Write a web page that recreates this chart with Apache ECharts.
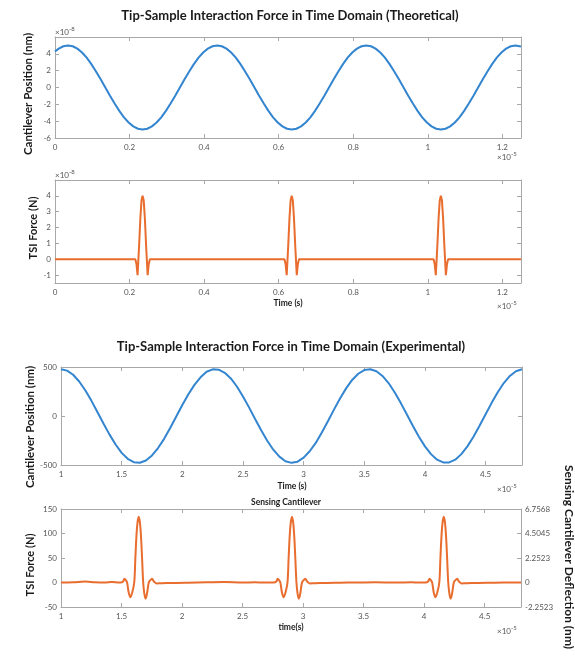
<!DOCTYPE html>
<html lang="en">
<head>
<meta charset="UTF-8">
<title>Tip-Sample Interaction Force in Time Domain</title>
<style>
  html, body { margin: 0; padding: 0; background: #fff; }
  #chart { width: 575px; height: 656px; }
</style>
</head>
<body>
<div id="chart"></div>
<script src="https://cdn.jsdelivr.net/npm/echarts@6.0.0/dist/echarts.min.js"></script>
<script>
// ---- theoretical (time in 1e-5 s, position in 1e-8, force in 1e-8 N) ----
var theoTime = [0,
  0.01, 0.0225, 0.035, 0.0475, 0.06, 0.0725, 0.085, 0.0975, 0.11, 0.1225, 0.135, 0.1475, 0.16, 0.1725, 0.185, 0.1975,
  0.21, 0.2225, 0.235, 0.2475, 0.26, 0.2725, 0.285, 0.2975, 0.31, 0.3225, 0.335, 0.3475, 0.36, 0.3725, 0.385, 0.3975,
  0.41, 0.4225, 0.435, 0.4475, 0.46, 0.4725, 0.485, 0.4975, 0.51, 0.5225, 0.535, 0.5475, 0.56, 0.5725, 0.585, 0.5975,
  0.61, 0.6225, 0.635, 0.6475, 0.66, 0.6725, 0.685, 0.6975, 0.71, 0.7225, 0.735, 0.7475, 0.76, 0.7725, 0.785, 0.7975,
  0.81, 0.8225, 0.835, 0.8475, 0.86, 0.8725, 0.885, 0.8975, 0.91, 0.9225, 0.935, 0.9475, 0.96, 0.9725, 0.985, 0.9975,
  1.01, 1.0225, 1.035, 1.0475, 1.06, 1.0725, 1.085, 1.0975, 1.11, 1.1225, 1.135, 1.1475, 1.16, 1.1725, 1.185, 1.1975,
  1.21, 1.2225, 1.235, 1.25];
var theoPos = [4.27,
  4.62, 4.90, 5.00, 4.90, 4.62, 4.16, 3.54, 2.78, 1.91, 0.98, 0, -0.98, -1.91, -2.78, -3.54, -4.16,
  -4.62, -4.90, -5.00, -4.90, -4.62, -4.16, -3.54, -2.78, -1.91, -0.98, 0, 0.98, 1.91, 2.78, 3.54, 4.16,
  4.62, 4.90, 5.00, 4.90, 4.62, 4.16, 3.54, 2.78, 1.91, 0.98, 0, -0.98, -1.91, -2.78, -3.54, -4.16,
  -4.62, -4.90, -5.00, -4.90, -4.62, -4.16, -3.54, -2.78, -1.91, -0.98, 0, 0.98, 1.91, 2.78, 3.54, 4.16,
  4.62, 4.90, 5.00, 4.90, 4.62, 4.16, 3.54, 2.78, 1.91, 0.98, 0, -0.98, -1.91, -2.78, -3.54, -4.16,
  -4.62, -4.90, -5.00, -4.90, -4.62, -4.16, -3.54, -2.78, -1.91, -0.98, 0, 0.98, 1.91, 2.78, 3.54, 4.16,
  4.62, 4.90, 5.00, 4.86];

var theoForceTime = [0,
  0.2155, 0.2185, 0.2215, 0.2255, 0.229, 0.232, 0.235, 0.238, 0.241, 0.2445, 0.2485, 0.2515, 0.2545,
  0.6155, 0.6185, 0.6215, 0.6255, 0.629, 0.632, 0.635, 0.638, 0.641, 0.6445, 0.6485, 0.6515, 0.6545,
  1.0155, 1.0185, 1.0215, 1.0255, 1.029, 1.032, 1.035, 1.038, 1.041, 1.0445, 1.0485, 1.0515, 1.0545,
  1.25];
var theoForce = [0,
  0, -0.3, -1.0, 0.8, 2.6, 3.7, 4.0, 3.7, 2.6, 0.8, -1.0, -0.3, 0,
  0, -0.3, -1.0, 0.8, 2.6, 3.7, 4.0, 3.7, 2.6, 0.8, -1.0, -0.3, 0,
  0, -0.3, -1.0, 0.8, 2.6, 3.7, 4.0, 3.7, 2.6, 0.8, -1.0, -0.3, 0,
  0];

// ---- experimental (time in 1e-5 s, position in nm, force in N) ----
var expTime = [1.00, 1.05, 1.10, 1.15, 1.20, 1.25, 1.30, 1.35, 1.40, 1.45, 1.50, 1.55, 1.60, 1.65, 1.70, 1.75,
  1.80, 1.85, 1.90, 1.95, 2.00, 2.05, 2.10, 2.15, 2.20, 2.25, 2.30, 2.35, 2.40, 2.45, 2.50, 2.55,
  2.60, 2.65, 2.70, 2.75, 2.80, 2.85, 2.90, 2.95, 3.00, 3.05, 3.10, 3.15, 3.20, 3.25, 3.30, 3.35,
  3.40, 3.45, 3.50, 3.55, 3.60, 3.65, 3.70, 3.75, 3.80, 3.85, 3.90, 3.95, 4.00, 4.05, 4.10, 4.15,
  4.20, 4.25, 4.30, 4.35, 4.40, 4.45, 4.50, 4.55, 4.60, 4.65, 4.70, 4.75, 4.80];
var expPos = [478, 463, 421, 352, 263, 157, 41, -76, -190, -291, -376, -437, -471, -477, -454, -402,
  -327, -233, -123, -6, 112, 222, 318, 395, 451, 476, 473, 441, 383, 301, 200, 88,
  -30, -145, -253, -344, -415, -461, -478, -466, -425, -360, -275, -168, -53, 65, 179, 282,
  368, 431, 469, 477, 457, 409, 336, 242, 134, 18, -100, -211, -310, -389, -446, -474,
  -474, -446, -389, -310, -211, -100, 18, 134, 242, 336, 409, 457, 477];

var expForceTime = [1.0, 1.1, 1.2, 1.28, 1.36, 1.42,
  1.482, 1.502, 1.515, 1.524, 1.535, 1.546, 1.559, 1.573, 1.589, 1.605, 1.614, 1.623, 1.632, 1.642,
  1.652, 1.661, 1.670, 1.679, 1.688, 1.699, 1.711, 1.725, 1.739, 1.752, 1.765, 1.777, 1.792, 1.822, 1.872,
  1.95, 2.05, 2.2, 2.35, 2.5, 2.6, 2.68,
  2.748, 2.768, 2.781, 2.790, 2.801, 2.812, 2.825, 2.839, 2.855, 2.871, 2.880, 2.889, 2.898, 2.908,
  2.918, 2.927, 2.936, 2.945, 2.954, 2.965, 2.977, 2.991, 3.005, 3.018, 3.031, 3.043, 3.058, 3.088, 3.138,
  3.2, 3.3, 3.45, 3.6, 3.75, 3.9, 3.95,
  4.002, 4.022, 4.035, 4.044, 4.055, 4.066, 4.079, 4.093, 4.109, 4.125, 4.134, 4.143, 4.152, 4.162,
  4.172, 4.181, 4.190, 4.199, 4.208, 4.219, 4.231, 4.245, 4.259, 4.272, 4.285, 4.297, 4.312, 4.342, 4.392,
  4.45, 4.55, 4.65, 4.8];
var expForce = [0, 0.5, 2, 0.5, 0, 1,
  0, 0.5, 3, 7.5, 5, 0, -20, -30, -20, 0, 48, 94, 122, 134,
  122, 94, 48, 0, -22, -33, -22, 0, 5, 7.5, 3, 0, -2, -1.5, -1,
  -1, -0.5, 0.5, 1, 0, 0.5, 0,
  0, 0.5, 3, 7.5, 5, 0, -20, -30, -20, 0, 48, 94, 122, 134,
  122, 94, 48, 0, -22, -33, -22, 0, 5, 7.5, 3, 0, -2, -1.5, -1,
  -1, -0.5, 0, 0.5, 0, 0.5, 0,
  0, 0.5, 3, 7.5, 5, 0, -20, -30, -20, 0, 48, 94, 122, 134,
  122, 94, 48, 0, -22, -33, -22, 0, 5, 7.5, 3, 0, -2, -1.5, -1,
  -1, -0.5, 0, 0];

// ---- tick values ----
var theoXTicks = [0, 0.2, 0.4, 0.6, 0.8, 1, 1.2];
var theoPosTicks = [-6, -4, -2, 0, 2, 4];
var theoForceTicks = [-1, 0, 1, 2, 3, 4];
var expXTicks = [1, 1.5, 2, 2.5, 3, 3.5, 4, 4.5];
var expPosTicks = [-500, 0, 500];
var expForceTicks = [-50, 0, 50, 100, 150];
var deflTicks = [-2.2523, 0, 2.2523, 4.5045, 6.7568];

function pairs(xs, ys) {
  return xs.map(function (x, i) { return [x, ys[i]]; });
}

var gray = '#a8a8a8';
var labelColor = '#555';
var fontFam = 'Lato, "Liberation Sans", sans-serif';

function xAx(grid, min, max, ticks, top) {
  return {
    type: 'value', gridIndex: grid, min: min, max: max,
    position: top ? 'top' : 'bottom',
    axisLine: { show: true, onZero: false, lineStyle: { color: gray, width: 1 } },
    axisTick: { show: true, inside: true, length: 4, customValues: ticks, lineStyle: { color: gray } },
    axisLabel: { show: !top, customValues: ticks, margin: 5, fontSize: 8, color: labelColor, fontFamily: fontFam },
    splitLine: { show: false }
  };
}
function yAx(grid, min, max, ticks, right, showLabel, fmt) {
  return {
    type: 'value', gridIndex: grid, min: min, max: max,
    position: right ? 'right' : 'left',
    axisLine: { show: true, onZero: false, lineStyle: { color: gray, width: 1 } },
    axisTick: { show: true, inside: true, length: 4, customValues: ticks, lineStyle: { color: gray } },
    axisLabel: { show: showLabel, customValues: ticks, margin: 4, fontSize: 8, color: labelColor, fontFamily: fontFam,
      formatter: fmt },
    splitLine: { show: false }
  };
}

function txt(x, y, text, size, bold, align, rot) {
  return {
    type: 'text', x: x, y: y, rotation: rot || 0,
    style: {
      text: text, fontSize: size, fontWeight: bold ? 'bold' : 'normal', fontFamily: fontFam,
      fill: bold ? '#1a1a1a' : labelColor, align: align || 'center', verticalAlign: 'middle',
      rich: { s: { fontSize: 6, verticalAlign: 'top', padding: [0, 0, 5, 0], fill: labelColor, fontFamily: fontFam } }
    }
  };
}

var chart = echarts.init(document.getElementById('chart'), null, { renderer: 'canvas' });

chart.setOption({
  animation: false,
  backgroundColor: '#fff',
  grid: [
    { left: 55, top: 37, width: 466, height: 101 },
    { left: 55, top: 180, width: 466, height: 103 },
    { left: 61, top: 367, width: 461, height: 98 },
    { left: 61, top: 509, width: 460, height: 98 }
  ],
  xAxis: [
    xAx(0, 0, 1.25, theoXTicks, false), xAx(0, 0, 1.25, theoXTicks, true),
    xAx(1, 0, 1.25, theoXTicks, false), xAx(1, 0, 1.25, theoXTicks, true),
    xAx(2, 1, 4.8, expXTicks, false), xAx(2, 1, 4.8, expXTicks, true),
    xAx(3, 1, 4.8, expXTicks, false), xAx(3, 1, 4.8, expXTicks, true)
  ],
  yAxis: [
    yAx(0, -6, 6, theoPosTicks, false, true), yAx(0, -6, 6, theoPosTicks, true, false),
    yAx(1, -1.5, 5, theoForceTicks, false, true), yAx(1, -1.5, 5, theoForceTicks, true, false),
    yAx(2, -500, 500, expPosTicks, false, true), yAx(2, -500, 500, expPosTicks, true, false),
    yAx(3, -50, 150, expForceTicks, false, true),
    yAx(3, -2.2523, 6.7568, deflTicks, true, true, function (v) { return String(v); })
  ],
  series: [
    { type: 'line', xAxisIndex: 0, yAxisIndex: 0, data: pairs(theoTime, theoPos), symbol: 'none',
      lineStyle: { color: '#3385cf', width: 2 } },
    { type: 'line', xAxisIndex: 2, yAxisIndex: 2, data: pairs(theoForceTime, theoForce), symbol: 'none',
      lineStyle: { color: '#e86d2e', width: 2 } },
    { type: 'line', xAxisIndex: 4, yAxisIndex: 4, data: pairs(expTime, expPos), symbol: 'none',
      lineStyle: { color: '#3385cf', width: 2 } },
    { type: 'line', xAxisIndex: 6, yAxisIndex: 6, data: pairs(expForceTime, expForce), smooth: 0.35, symbol: 'none',
      lineStyle: { color: '#e86d2e', width: 2 } }
  ],
  graphic: [
    txt(290, 16, 'Tip-Sample Interaction Force in Time Domain (Theoretical)', 13, true),
    txt(55, 32, '×10{s|-8}', 8, false, 'left'),
    txt(497, 157, '×10{s|-5}', 8, false, 'left'),
    txt(28, 94, 'Cantilever Position (nm)', 11.5, true, 'center', Math.PI / 2),
    txt(55, 175, '×10{s|-8}', 8, false, 'left'),
    txt(33, 228, 'TSI Force (N)', 11, true, 'center', Math.PI / 2),
    txt(288, 303, 'Time (s)', 8.5, true),
    txt(497, 306, '×10{s|-5}', 8, false, 'left'),

    txt(291, 347, 'Tip-Sample Interaction Force in Time Domain (Experimental)', 13, true),
    txt(30, 427, 'Cantilever Position (nm)', 11.5, true, 'center', Math.PI / 2),
    txt(292, 486, 'Time (s)', 8.5, true),
    txt(497, 489, '×10{s|-5}', 8, false, 'left'),
    txt(286, 502, 'Sensing Cantilever', 8.5, true),
    txt(30, 565, 'TSI Force (N)', 11, true, 'center', Math.PI / 2),
    txt(291, 627, 'time(s)', 8.5, true),
    txt(497, 631, '×10{s|-5}', 8, false, 'left'),
    txt(569, 557, 'Sensing Cantilever Deflection (nm)', 12, true, 'center', -Math.PI / 2)
  ]
});
</script>
</body>
</html>
